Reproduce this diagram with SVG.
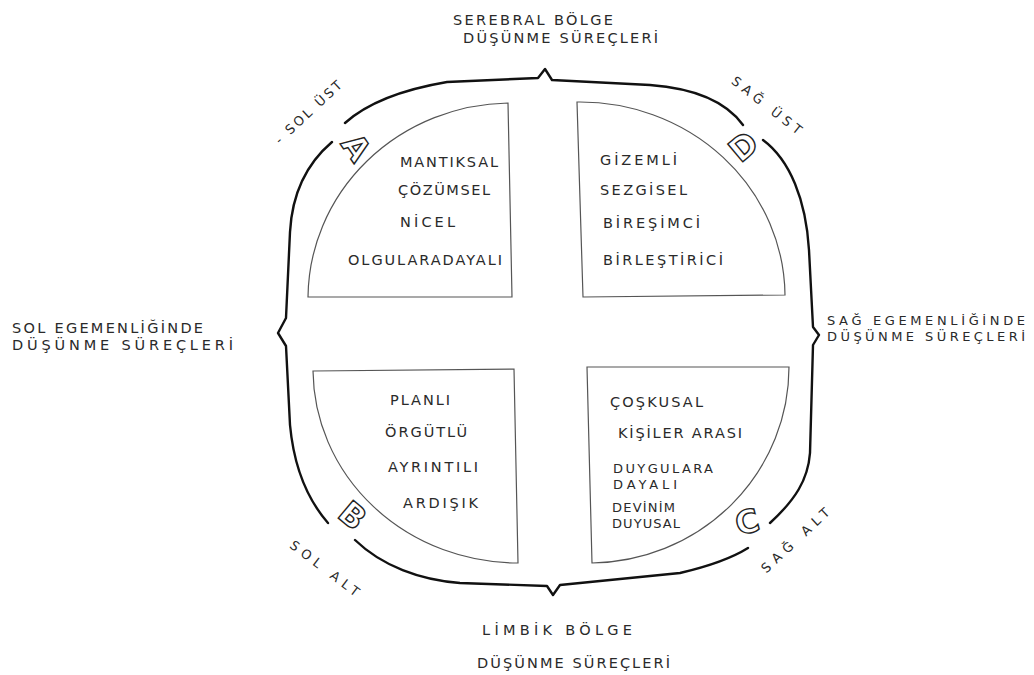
<svg xmlns="http://www.w3.org/2000/svg" width="1034" height="675" viewBox="0 0 1034 675">
<style>
.t{font-family:"DejaVu Sans","Liberation Sans",sans-serif;font-size:14.5px;fill:#2a2a2a;}
.s{font-family:"DejaVu Sans","Liberation Sans",sans-serif;font-size:13px;fill:#2a2a2a;}
.q{fill:none;stroke:#555;stroke-width:1.2;}
.f{fill:none;stroke:#111;stroke-width:2.4;stroke-linecap:round;stroke-linejoin:round;}
.L{font-family:"DejaVu Sans","Liberation Sans",sans-serif;font-size:32px;font-weight:bold;fill:#fff;stroke:#222;stroke-width:1.4;text-anchor:middle;}
</style>
<rect width="1034" height="675" fill="#fff"/>
<g id="frame">
<path class="f" d="M332,142 C305,165 292,195 290,232 L286,318 L278,333 L286,346 L290,425 C294,468 308,500 328,523"/>
<path class="f" d="M355,540 C382,566 420,580 460,583 L547,586 L553,595 L560,585 L680,573 C710,566 732,558 748,548"/>
<path class="f" d="M770,523 C795,500 808,480 810,453 L813,345 L819,335 L813,327 L809,250 C806,200 790,160 763,140"/>
<path class="f" d="M743,125 C725,100 690,88 650,85 L552,80 L545,69 L538,78 L447,82 C400,90 365,105 345,123"/>
</g>
<g id="quadA">
<path class="q" d="M508,103 L512,297 L308,297 A204,196 0 0 1 508,103 Z"/>
<text class="L" x="357" y="159" transform="rotate(55 357 147)">A</text>
<text class="t" x="400" y="167" textLength="98" lengthAdjust="spacing">MANTIKSAL</text>
<text class="t" x="398" y="195" textLength="92" lengthAdjust="spacing">ÇÖZÜMSEL</text>
<text class="t" x="400" y="227" textLength="55" lengthAdjust="spacing">NİCEL</text>
<text class="t" x="348" y="265" textLength="154" lengthAdjust="spacing">OLGULARADAYALI</text>
</g>
<g id="quadD">
<path class="q" d="M577,102 A205,195 0 0 1 785,295 L583,297 Z"/>
<text class="L" x="743" y="158" transform="rotate(-40 743 146)">D</text>
<text class="t" x="600" y="165" textLength="77" lengthAdjust="spacing">GİZEMLİ</text>
<text class="t" x="600" y="195" textLength="87" lengthAdjust="spacing">SEZGİSEL</text>
<text class="t" x="603" y="228" textLength="97" lengthAdjust="spacing">BİREŞİMCİ</text>
<text class="t" x="603" y="265" textLength="120" lengthAdjust="spacing">BİRLEŞTİRİCİ</text>
</g>
<g id="quadB">
<path class="q" d="M313,371 L514,369 L518,563 A205,194 0 0 1 313,371 Z"/>
<text class="L" x="353" y="527" transform="rotate(40 353 515)">B</text>
<text class="t" x="390" y="405" textLength="60" lengthAdjust="spacing">PLANLI</text>
<text class="t" x="385" y="437" textLength="82" lengthAdjust="spacing">ÖRGÜTLÜ</text>
<text class="t" x="388" y="472" textLength="90" lengthAdjust="spacing">AYRINTILI</text>
<text class="t" x="403" y="508" textLength="75" lengthAdjust="spacing">ARDIŞIK</text>
</g>
<g id="quadC">
<path class="q" d="M587,367 L789,367 A200,196 0 0 1 592,563 Z"/>
<text class="L" x="747" y="533" transform="rotate(-15 747 521)">C</text>
<text class="t" x="610" y="407" textLength="93" lengthAdjust="spacing">ÇOŞKUSAL</text>
<text class="t" x="618" y="438" textLength="124" lengthAdjust="spacing">KİŞİLER ARASI</text>
<text class="s" x="613" y="473" textLength="100" lengthAdjust="spacing">DUYGULARA</text>
<text class="s" x="613" y="489" textLength="64" lengthAdjust="spacing">DAYALI</text>
<text class="s" x="612" y="512" textLength="63" lengthAdjust="spacing">DEVİNİM</text>
<text class="s" x="612" y="528" textLength="68" lengthAdjust="spacing">DUYUSAL</text>
</g>
<g id="labelTop">
<text class="t" x="453" y="25" textLength="160" lengthAdjust="spacing">SEREBRAL BÖLGE</text>
<text class="t" x="463" y="43" textLength="195" lengthAdjust="spacing">DÜŞÜNME SÜREÇLERİ</text>
</g>
<g id="labelLeft">
<text class="t" x="12" y="333" textLength="191" lengthAdjust="spacing">SOL EGEMENLİĞİNDE</text>
<text class="t" x="12" y="350" textLength="221" lengthAdjust="spacing">DÜŞÜNME SÜREÇLERİ</text>
</g>
<g id="labelRight">
<text class="s" x="827" y="325" textLength="198" lengthAdjust="spacing">SAĞ EGEMENLİĞİNDE</text>
<text class="s" x="827" y="341" textLength="198" lengthAdjust="spacing">DÜŞÜNME SÜREÇLERİ</text>
</g>
<g id="labelBottom">
<text class="t" x="482" y="635" textLength="150" lengthAdjust="spacing">LİMBİK BÖLGE</text>
<text class="t" x="477" y="668" textLength="193" lengthAdjust="spacing">DÜŞÜNME SÜREÇLERİ</text>
</g>
<g id="cornerLabels">
<text class="s" x="308" y="117" text-anchor="middle" textLength="86" lengthAdjust="spacing" transform="rotate(-43 308 112)">- SOL ÜST</text>
<text class="s" x="767" y="110" text-anchor="middle" textLength="85" lengthAdjust="spacing" transform="rotate(38 767 105)">SAĞ ÜST</text>
<text class="s" x="325" y="573" text-anchor="middle" textLength="83" lengthAdjust="spacing" transform="rotate(37 325 568)">SOL ALT</text>
<text class="s" x="795" y="545" text-anchor="middle" textLength="88" lengthAdjust="spacing" transform="rotate(-43 795 540)">SAĞ ALT</text>
</g>
</svg>
